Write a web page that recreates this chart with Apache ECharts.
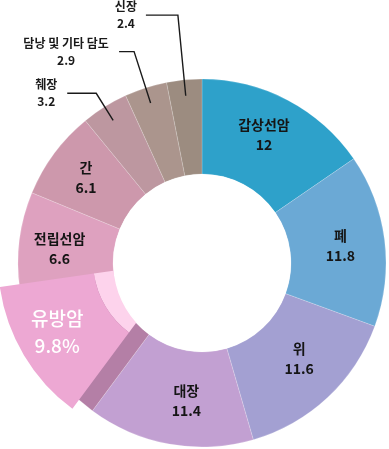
<!DOCTYPE html>
<html>
<head>
<meta charset="utf-8">
<script src="https://cdn.jsdelivr.net/npm/echarts@6/dist/echarts.min.js"></script>
<style>
  html, body { margin: 0; padding: 0; background: #fff; }
  #chart { width: 389px; height: 449px; }
</style>
</head>
<body>
<div id="chart"></div>
<script>
// ---- data ----
const categories = ['갑상선암', '폐', '위', '대장', '유방암', '전립선암', '간', '췌장', '담낭 및 기타 담도', '신장'];
const values = [12, 11.8, 11.6, 11.4, 9.8, 6.6, 6.1, 3.2, 2.9, 2.4];
const colors = ['#2ea1ca', '#6ba9d5', '#a3a0d2', '#c2a0d2', '#eda8d3', '#dea1bf', '#cd98ac', '#bd97a0', '#ab958d', '#9c8c80'];
const highlighted = '유방암';
const innerLabeled = ['갑상선암', '폐', '위', '대장', '전립선암', '간'];
const outerLabeled = ['췌장', '담낭 및 기타 담도', '신장'];

// ---- layout / style (not data) ----
const FONT = '"Noto Sans CJK KR", "Noto Sans", sans-serif';
const C0 = [202, 263];
const SHIFT = [-20, -2];
const C1 = [C0[0] + SHIFT[0], C0[1] + SHIFT[1]];
const R_IN = 89, R_OUT = 184, R_LEAD = 168;
const DARK_FACE = '#b47fa6', LIGHT_FACE = '#fdd3ec';
const leader = {
  '췌장': { length: 32, length2: 29, w: 26 },
  '담낭 및 기타 담도': { length: 54, length2: 15, w: 90 },
  '신장': { length: 81, length2: 32, w: 24 }
};
// small label nudges (px)
const nudge = {
  '갑상선암': [-3, -5], '위': [2, -6], '대장': [9, 0], '유방암': [-5, 0], '전립선암': [-4, 3], '간': [-4, -2]
};
const NONE = 'rgba(0,0,0,0)';

const chart = echarts.init(document.getElementById('chart'), null, { renderer: 'canvas' });

function base(extra) {
  return Object.assign({
    type: 'pie', startAngle: 90, clockwise: true, silent: true, animation: false,
    avoidLabelOverlap: false, emphasis: { disabled: true },
    labelLine: { show: false }, label: { show: false }
  }, extra);
}

function nudgeLayout(params) {
  const n = categories[params.dataIndex];
  const d = nudge[n];
  return d ? { dx: d[0], dy: d[1] } : {};
}

const series = [
  // main ring (highlighted slice shows as dark side face)
  base({
    z: 2, center: C0, radius: [R_IN, R_OUT],
    itemStyle: { borderColor: 'rgba(255,255,255,0.3)', borderWidth: 0.6 },
    label: {
      show: true, position: 'inside', formatter: '{b}\n{c}',
      fontFamily: FONT, fontSize: 14, fontWeight: 'bold', color: '#151515', lineHeight: 20
    },
    labelLayout: nudgeLayout,
    data: categories.map((n, i) => ({
      name: n, value: values[i],
      itemStyle: { color: n === highlighted ? DARK_FACE : colors[i] },
      label: { show: innerLabeled.includes(n) }
    }))
  }),
  // light inner face of the pulled-out slice
  base({
    z: 3, center: C1, radius: [0, R_IN],
    data: categories.map((n, i) => ({
      name: n, value: values[i],
      itemStyle: { color: n === highlighted ? LIGHT_FACE : NONE }
    }))
  }),
  // donut hole
  base({
    z: 4, center: C0, radius: [0, R_IN - 1],
    itemStyle: { borderColor: '#ffffff', borderWidth: 1.5 },
    data: categories.map((n, i) => ({
      name: n, value: values[i], itemStyle: { color: '#ffffff' }
    }))
  }),
  // pulled-out slice
  base({
    z: 5, center: C1, radius: [R_IN, R_OUT],
    label: {
      show: true, position: 'inside', formatter: '{b}\n{c}%',
      fontFamily: FONT, fontSize: 19, fontWeight: 500, color: '#ffffff', lineHeight: 27
    },
    labelLayout: nudgeLayout,
    data: categories.map((n, i) => ({
      name: n, value: values[i],
      itemStyle: { color: n === highlighted ? colors[i] : NONE },
      label: { show: n === highlighted }
    }))
  }),
  // callout labels for small slices
  base({
    z: 6, center: C0, radius: [0, R_LEAD],
    label: {
      show: true, position: 'outside', distanceToLabelLine: 8,
      fontFamily: FONT, fontSize: 12, fontWeight: 'bold', color: '#1a1a1a', lineHeight: 17
    },
    labelLine: { show: true, lineStyle: { color: '#1a1a1a', width: 1.4 } },
    data: categories.map((n, i) => {
      const L = leader[n];
      const item = { name: n, value: values[i], itemStyle: { color: NONE } };
      if (outerLabeled.includes(n)) {
        const st = { width: L.w, align: 'center', fontFamily: FONT, fontSize: 12, fontWeight: 'bold', color: '#1a1a1a', lineHeight: 17 };
        item.label = {
          show: true, formatter: '{n|{b}}\n{v|{c}}',
          rich: { n: st, v: st }
        };
        item.labelLine = { show: true, length: L.length, length2: L.length2 };
      } else {
        item.label = { show: false };
        item.labelLine = { show: false };
      }
      return item;
    })
  })
];

chart.setOption({ animation: false, backgroundColor: '#ffffff', series });
</script>
</body>
</html>
